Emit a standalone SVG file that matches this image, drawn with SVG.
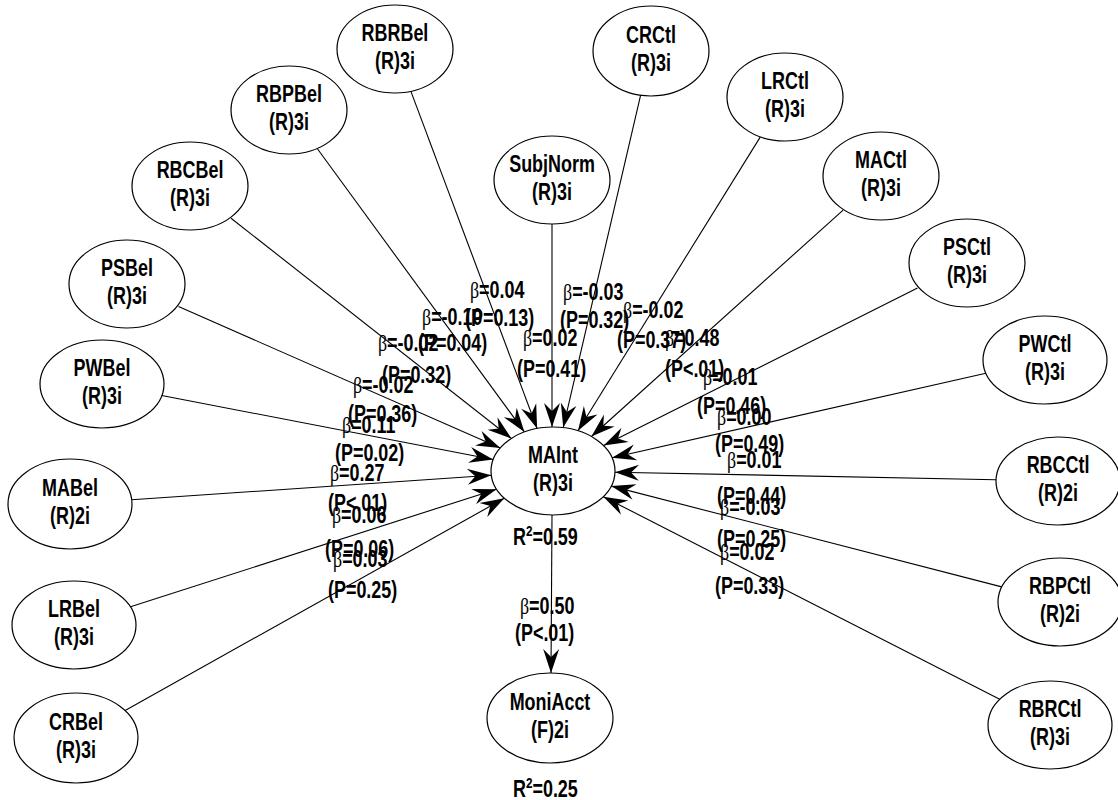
<svg xmlns="http://www.w3.org/2000/svg" width="1118" height="800" viewBox="0 0 1118 800">
  <style>
    .node ellipse { fill: #ffffff; stroke: #000000; stroke-width: 1.2; }
    .node text { font-family: "Liberation Sans", Arial, sans-serif; font-weight: bold; font-size: 23px; fill: #000000; text-anchor: middle; transform-box: fill-box; transform-origin: center; transform: scaleX(0.78); }
    .edges line { stroke: #000000; stroke-width: 1.1; }
    .lbl text { font-family: "Liberation Sans", Arial, sans-serif; font-weight: bold; font-size: 23px; fill: #000000; transform-box: fill-box; transform-origin: left center; transform: scaleX(0.78); }
    .b { font-family: "Liberation Serif", serif; font-weight: normal; }
  </style>
  <defs>
    <marker id="arrow" viewBox="-25 -9 26 18" refX="0" refY="0" markerWidth="26" markerHeight="18" markerUnits="userSpaceOnUse" orient="auto">
      <path d="M0,0 L-24,-8 L-16,0 L-24,8 Z" fill="#000000"/>
    </marker>
  </defs>
  <rect width="1118" height="800" fill="#ffffff"/>

  <!-- paths into MAInt and out to MoniAcct -->
  <g id="connectors" class="edges">
    <line x1="410.9" y1="91.4" x2="537.1" y2="428.5" marker-end="url(#arrow)"/>
    <line x1="317.4" y1="148.8" x2="524.4" y2="431.9" marker-end="url(#arrow)"/>
    <line x1="231" y1="218.2" x2="511.4" y2="438.4" marker-end="url(#arrow)"/>
    <line x1="178.5" y1="306.6" x2="500.3" y2="447.9" marker-end="url(#arrow)"/>
    <line x1="161.8" y1="395.5" x2="493.2" y2="459.5" marker-end="url(#arrow)"/>
    <line x1="131.7" y1="499.8" x2="491.3" y2="475.2" marker-end="url(#arrow)"/>
    <line x1="130.5" y1="606.8" x2="496.5" y2="489.2" marker-end="url(#arrow)"/>
    <line x1="124.7" y1="710.7" x2="504.3" y2="498.3" marker-end="url(#arrow)"/>
    <line x1="552" y1="224" x2="552" y2="427" marker-end="url(#arrow)"/>
    <line x1="640.8" y1="94.4" x2="563.2" y2="427.6" marker-end="url(#arrow)"/>
    <line x1="760.2" y1="137.1" x2="578" y2="430.7" marker-end="url(#arrow)"/>
    <line x1="843.1" y1="210.1" x2="591.4" y2="436.5" marker-end="url(#arrow)"/>
    <line x1="917.5" y1="287.9" x2="603.6" y2="445.6" marker-end="url(#arrow)"/>
    <line x1="985.9" y1="373.3" x2="612.1" y2="457.7" marker-end="url(#arrow)"/>
    <line x1="996" y1="479.8" x2="615" y2="472.2" marker-end="url(#arrow)"/>
    <line x1="1001.7" y1="586.9" x2="611.3" y2="486.1" marker-end="url(#arrow)"/>
    <line x1="999.7" y1="699.3" x2="603.3" y2="496.7" marker-end="url(#arrow)"/>
    <line x1="552" y1="515" x2="551" y2="673" marker-end="url(#arrow)"/>
  </g>

  <!-- path coefficients -->
  <g id="labels" class="lbl">
    <text x="470" y="298"><tspan class="b">β</tspan>=0.04</text>
    <text x="465" y="326">(P=0.13)</text>
    <text x="422" y="325"><tspan class="b">β</tspan>=-0.10</text>
    <text x="418" y="351">(P=0.04)</text>
    <text x="378" y="351"><tspan class="b">β</tspan>=-0.02</text>
    <text x="382" y="383">(P=0.32)</text>
    <text x="353" y="393"><tspan class="b">β</tspan>=-0.02</text>
    <text x="348" y="422">(P=0.36)</text>
    <text x="342" y="433"><tspan class="b">β</tspan>=0.11</text>
    <text x="335" y="461">(P=0.02)</text>
    <text x="330" y="481"><tspan class="b">β</tspan>=0.27</text>
    <text x="328" y="511">(P&lt;.01)</text>
    <text x="332" y="523"><tspan class="b">β</tspan>=0.06</text>
    <text x="325" y="557">(P=0.06)</text>
    <text x="333" y="567"><tspan class="b">β</tspan>=0.03</text>
    <text x="328" y="598">(P=0.25)</text>

    <text x="523" y="346"><tspan class="b">β</tspan>=0.02</text>
    <text x="517" y="377">(P=0.41)</text>
    <text x="563" y="300"><tspan class="b">β</tspan>=-0.03</text>
    <text x="560" y="328">(P=0.32)</text>
    <text x="623" y="318"><tspan class="b">β</tspan>=-0.02</text>
    <text x="617" y="348">(P=0.37)</text>
    <text x="665" y="346"><tspan class="b">β</tspan>=0.48</text>
    <text x="665" y="377">(P&lt;.01)</text>
    <text x="703" y="385"><tspan class="b">β</tspan>=0.01</text>
    <text x="697" y="414">(P=0.46)</text>
    <text x="717" y="425"><tspan class="b">β</tspan>=0.00</text>
    <text x="715" y="452">(P=0.49)</text>
    <text x="727" y="468"><tspan class="b">β</tspan>=0.01</text>
    <text x="717" y="504">(P=0.44)</text>
    <text x="720" y="515"><tspan class="b">β</tspan>=-0.03</text>
    <text x="717" y="547">(P=0.25)</text>
    <text x="720" y="560"><tspan class="b">β</tspan>=0.02</text>
    <text x="715" y="594">(P=0.33)</text>

    <text x="513" y="545">R<tspan font-size="15" dy="-9">2</tspan><tspan dy="9">=0.59</tspan></text>
    <text x="520" y="614"><tspan class="b">β</tspan>=0.50</text>
    <text x="515" y="641">(P&lt;.01)</text>
    <text x="513" y="797">R<tspan font-size="15" dy="-9">2</tspan><tspan dy="9">=0.25</tspan></text>
  </g>

  <g id="RBRBel" class="node"><ellipse cx="395" cy="49" rx="58" ry="44"/><text x="395" y="41">RBRBel</text><text x="395" y="69">(R)3i</text></g>
  <g id="RBPBel" class="node"><ellipse cx="289" cy="110" rx="58" ry="44"/><text x="289" y="102">RBPBel</text><text x="289" y="130">(R)3i</text></g>
  <g id="RBCBel" class="node"><ellipse cx="190" cy="186" rx="58" ry="44"/><text x="190" y="178">RBCBel</text><text x="190" y="206">(R)3i</text></g>
  <g id="PSBel" class="node"><ellipse cx="127" cy="284" rx="58" ry="44"/><text x="127" y="276">PSBel</text><text x="127" y="304">(R)3i</text></g>
  <g id="PWBel" class="node"><ellipse cx="102" cy="384" rx="62" ry="44"/><text x="102" y="376">PWBel</text><text x="102" y="404">(R)3i</text></g>
  <g id="MABel" class="node"><ellipse cx="70" cy="504" rx="62" ry="45"/><text x="70" y="496">MABel</text><text x="70" y="524">(R)2i</text></g>
  <g id="LRBel" class="node"><ellipse cx="74" cy="625" rx="62" ry="44"/><text x="74" y="617">LRBel</text><text x="74" y="645">(R)3i</text></g>
  <g id="CRBel" class="node"><ellipse cx="76" cy="738" rx="62" ry="45"/><text x="76" y="730">CRBel</text><text x="76" y="758">(R)3i</text></g>
  <g id="SubjNorm" class="node"><ellipse cx="552" cy="180" rx="58" ry="44"/><text x="552" y="172">SubjNorm</text><text x="552" y="200">(R)3i</text></g>
  <g id="CRCtl" class="node"><ellipse cx="651" cy="51" rx="58" ry="45"/><text x="651" y="43">CRCtl</text><text x="651" y="71">(R)3i</text></g>
  <g id="LRCtl" class="node"><ellipse cx="785" cy="97" rx="58" ry="44"/><text x="785" y="89">LRCtl</text><text x="785" y="117">(R)3i</text></g>
  <g id="MACtl" class="node"><ellipse cx="881" cy="176" rx="58" ry="44"/><text x="881" y="168">MACtl</text><text x="881" y="196">(R)3i</text></g>
  <g id="PSCtl" class="node"><ellipse cx="967" cy="263" rx="58" ry="44"/><text x="967" y="255">PSCtl</text><text x="967" y="283">(R)3i</text></g>
  <g id="PWCtl" class="node"><ellipse cx="1045" cy="360" rx="62" ry="44"/><text x="1045" y="352">PWCtl</text><text x="1045" y="380">(R)3i</text></g>
  <g id="RBCCtl" class="node"><ellipse cx="1058" cy="481" rx="62" ry="44"/><text x="1058" y="473">RBCCtl</text><text x="1058" y="501">(R)2i</text></g>
  <g id="RBPCtl" class="node"><ellipse cx="1060" cy="602" rx="62" ry="44"/><text x="1060" y="594">RBPCtl</text><text x="1060" y="622">(R)2i</text></g>
  <g id="RBRCtl" class="node"><ellipse cx="1050" cy="725" rx="62" ry="44"/><text x="1050" y="717">RBRCtl</text><text x="1050" y="745">(R)3i</text></g>
  <g id="MAInt" class="node"><ellipse cx="553" cy="471" rx="62" ry="44"/><text x="553" y="463">MAInt</text><text x="553" y="491">(R)3i</text></g>
  <g id="MoniAcct" class="node"><ellipse cx="550" cy="718" rx="63" ry="45"/><text x="550" y="710">MoniAcct</text><text x="550" y="738">(F)2i</text></g>
</svg>
